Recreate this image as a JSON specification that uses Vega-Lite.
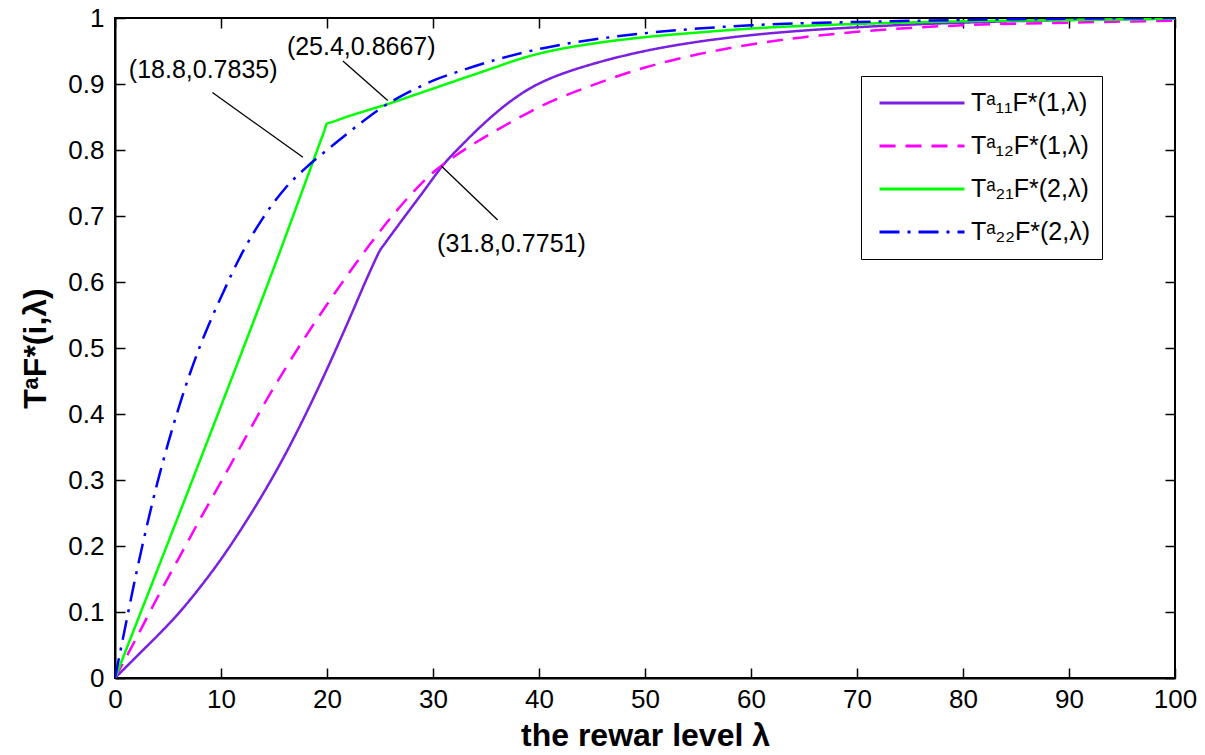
{
  "$schema": "https://vega.github.io/schema/vega-lite/v6.json",
  "width": 1060,
  "height": 660,
  "autosize": {"type": "none"},
  "padding": {"left": 115, "top": 18, "right": 30, "bottom": 77},
  "background": "white",
  "config": {
    "font": "Liberation Sans",
    "view": {"stroke": "black", "strokeWidth": 2},
    "axis": {
      "grid": false,
      "domainColor": "black",
      "domainWidth": 2,
      "tickColor": "black",
      "tickWidth": 1.5,
      "tickSize": -10,
      "labelFont": "Liberation Sans",
      "labelFontSize": 26,
      "labelColor": "black",
      "titleFont": "Liberation Sans",
      "titleFontSize": 32,
      "titleFontWeight": "bold",
      "titleColor": "black"
    },
    "legend": {
      "orient": "none",
      "legendX": 746,
      "legendY": 58,
      "title": null,
      "strokeColor": "black",
      "fillColor": "white",
      "padding": 12,
      "symbolType": "stroke",
      "symbolSize": 7225,
      "symbolStrokeWidth": 3,
      "symbolOffset": 5,
      "clipHeight": 30,
      "rowPadding": 13,
      "labelOffset": 5,
      "labelFont": "Liberation Sans",
      "labelFontSize": 25,
      "labelColor": "black",
      "labelLimit": 0
    }
  },
  "datasets": {
    "curves": [
      {"s": "T\u1d43\u2081\u2081F*(1,\u03bb)", "x": 0, "y": 0},
      {"s": "T\u1d43\u2081\u2081F*(1,\u03bb)", "x": 1, "y": 0.016},
      {"s": "T\u1d43\u2081\u2081F*(1,\u03bb)", "x": 2, "y": 0.032},
      {"s": "T\u1d43\u2081\u2081F*(1,\u03bb)", "x": 3, "y": 0.048},
      {"s": "T\u1d43\u2081\u2081F*(1,\u03bb)", "x": 4, "y": 0.064},
      {"s": "T\u1d43\u2081\u2081F*(1,\u03bb)", "x": 6, "y": 0.098},
      {"s": "T\u1d43\u2081\u2081F*(1,\u03bb)", "x": 8, "y": 0.137},
      {"s": "T\u1d43\u2081\u2081F*(1,\u03bb)", "x": 10, "y": 0.18},
      {"s": "T\u1d43\u2081\u2081F*(1,\u03bb)", "x": 12, "y": 0.228},
      {"s": "T\u1d43\u2081\u2081F*(1,\u03bb)", "x": 14, "y": 0.28},
      {"s": "T\u1d43\u2081\u2081F*(1,\u03bb)", "x": 16, "y": 0.337},
      {"s": "T\u1d43\u2081\u2081F*(1,\u03bb)", "x": 18, "y": 0.4},
      {"s": "T\u1d43\u2081\u2081F*(1,\u03bb)", "x": 20, "y": 0.468},
      {"s": "T\u1d43\u2081\u2081F*(1,\u03bb)", "x": 22, "y": 0.54},
      {"s": "T\u1d43\u2081\u2081F*(1,\u03bb)", "x": 24, "y": 0.614},
      {"s": "T\u1d43\u2081\u2081F*(1,\u03bb)", "x": 24.6, "y": 0.635},
      {"s": "T\u1d43\u2081\u2081F*(1,\u03bb)", "x": 25, "y": 0.648},
      {"s": "T\u1d43\u2081\u2081F*(1,\u03bb)", "x": 25.4, "y": 0.657},
      {"s": "T\u1d43\u2081\u2081F*(1,\u03bb)", "x": 27, "y": 0.692},
      {"s": "T\u1d43\u2081\u2081F*(1,\u03bb)", "x": 29, "y": 0.735},
      {"s": "T\u1d43\u2081\u2081F*(1,\u03bb)", "x": 31, "y": 0.778},
      {"s": "T\u1d43\u2081\u2081F*(1,\u03bb)", "x": 33, "y": 0.812},
      {"s": "T\u1d43\u2081\u2081F*(1,\u03bb)", "x": 35, "y": 0.843},
      {"s": "T\u1d43\u2081\u2081F*(1,\u03bb)", "x": 37, "y": 0.87},
      {"s": "T\u1d43\u2081\u2081F*(1,\u03bb)", "x": 39, "y": 0.892},
      {"s": "T\u1d43\u2081\u2081F*(1,\u03bb)", "x": 41, "y": 0.908},
      {"s": "T\u1d43\u2081\u2081F*(1,\u03bb)", "x": 43, "y": 0.92},
      {"s": "T\u1d43\u2081\u2081F*(1,\u03bb)", "x": 45, "y": 0.93},
      {"s": "T\u1d43\u2081\u2081F*(1,\u03bb)", "x": 50, "y": 0.95},
      {"s": "T\u1d43\u2081\u2081F*(1,\u03bb)", "x": 55, "y": 0.964},
      {"s": "T\u1d43\u2081\u2081F*(1,\u03bb)", "x": 60, "y": 0.974},
      {"s": "T\u1d43\u2081\u2081F*(1,\u03bb)", "x": 65, "y": 0.981},
      {"s": "T\u1d43\u2081\u2081F*(1,\u03bb)", "x": 70, "y": 0.986},
      {"s": "T\u1d43\u2081\u2081F*(1,\u03bb)", "x": 75, "y": 0.99},
      {"s": "T\u1d43\u2081\u2081F*(1,\u03bb)", "x": 80, "y": 0.993},
      {"s": "T\u1d43\u2081\u2081F*(1,\u03bb)", "x": 90, "y": 0.997},
      {"s": "T\u1d43\u2081\u2081F*(1,\u03bb)", "x": 100, "y": 0.999},

      {"s": "T\u1d43\u2081\u2082F*(1,\u03bb)", "x": 0, "y": 0},
      {"s": "T\u1d43\u2081\u2082F*(1,\u03bb)", "x": 1, "y": 0.03},
      {"s": "T\u1d43\u2081\u2082F*(1,\u03bb)", "x": 2, "y": 0.06},
      {"s": "T\u1d43\u2081\u2082F*(1,\u03bb)", "x": 4, "y": 0.122},
      {"s": "T\u1d43\u2081\u2082F*(1,\u03bb)", "x": 6, "y": 0.181},
      {"s": "T\u1d43\u2081\u2082F*(1,\u03bb)", "x": 8, "y": 0.24},
      {"s": "T\u1d43\u2081\u2082F*(1,\u03bb)", "x": 10, "y": 0.297},
      {"s": "T\u1d43\u2081\u2082F*(1,\u03bb)", "x": 12, "y": 0.355},
      {"s": "T\u1d43\u2081\u2082F*(1,\u03bb)", "x": 14, "y": 0.413},
      {"s": "T\u1d43\u2081\u2082F*(1,\u03bb)", "x": 16, "y": 0.467},
      {"s": "T\u1d43\u2081\u2082F*(1,\u03bb)", "x": 18, "y": 0.518},
      {"s": "T\u1d43\u2081\u2082F*(1,\u03bb)", "x": 20, "y": 0.566},
      {"s": "T\u1d43\u2081\u2082F*(1,\u03bb)", "x": 22, "y": 0.612},
      {"s": "T\u1d43\u2081\u2082F*(1,\u03bb)", "x": 24, "y": 0.656},
      {"s": "T\u1d43\u2081\u2082F*(1,\u03bb)", "x": 26, "y": 0.697},
      {"s": "T\u1d43\u2081\u2082F*(1,\u03bb)", "x": 28, "y": 0.734},
      {"s": "T\u1d43\u2081\u2082F*(1,\u03bb)", "x": 30, "y": 0.766},
      {"s": "T\u1d43\u2081\u2082F*(1,\u03bb)", "x": 32, "y": 0.79},
      {"s": "T\u1d43\u2081\u2082F*(1,\u03bb)", "x": 34, "y": 0.811},
      {"s": "T\u1d43\u2081\u2082F*(1,\u03bb)", "x": 36, "y": 0.83},
      {"s": "T\u1d43\u2081\u2082F*(1,\u03bb)", "x": 38, "y": 0.848},
      {"s": "T\u1d43\u2081\u2082F*(1,\u03bb)", "x": 40, "y": 0.865},
      {"s": "T\u1d43\u2081\u2082F*(1,\u03bb)", "x": 45, "y": 0.898},
      {"s": "T\u1d43\u2081\u2082F*(1,\u03bb)", "x": 50, "y": 0.925},
      {"s": "T\u1d43\u2081\u2082F*(1,\u03bb)", "x": 55, "y": 0.945},
      {"s": "T\u1d43\u2081\u2082F*(1,\u03bb)", "x": 60, "y": 0.96},
      {"s": "T\u1d43\u2081\u2082F*(1,\u03bb)", "x": 65, "y": 0.971},
      {"s": "T\u1d43\u2081\u2082F*(1,\u03bb)", "x": 70, "y": 0.979},
      {"s": "T\u1d43\u2081\u2082F*(1,\u03bb)", "x": 75, "y": 0.985},
      {"s": "T\u1d43\u2081\u2082F*(1,\u03bb)", "x": 80, "y": 0.989},
      {"s": "T\u1d43\u2081\u2082F*(1,\u03bb)", "x": 90, "y": 0.993},
      {"s": "T\u1d43\u2081\u2082F*(1,\u03bb)", "x": 100, "y": 0.996},

      {"s": "T\u1d43\u2082\u2081F*(2,\u03bb)", "x": 0, "y": 0},
      {"s": "T\u1d43\u2082\u2081F*(2,\u03bb)", "x": 5, "y": 0.205},
      {"s": "T\u1d43\u2082\u2081F*(2,\u03bb)", "x": 10, "y": 0.412},
      {"s": "T\u1d43\u2082\u2081F*(2,\u03bb)", "x": 15, "y": 0.622},
      {"s": "T\u1d43\u2082\u2081F*(2,\u03bb)", "x": 19.7, "y": 0.827},
      {"s": "T\u1d43\u2082\u2081F*(2,\u03bb)", "x": 20, "y": 0.84},
      {"s": "T\u1d43\u2082\u2081F*(2,\u03bb)", "x": 20.3, "y": 0.8415},
      {"s": "T\u1d43\u2082\u2081F*(2,\u03bb)", "x": 22, "y": 0.851},
      {"s": "T\u1d43\u2082\u2081F*(2,\u03bb)", "x": 24, "y": 0.861},
      {"s": "T\u1d43\u2082\u2081F*(2,\u03bb)", "x": 26, "y": 0.871},
      {"s": "T\u1d43\u2082\u2081F*(2,\u03bb)", "x": 28, "y": 0.882},
      {"s": "T\u1d43\u2082\u2081F*(2,\u03bb)", "x": 30, "y": 0.893},
      {"s": "T\u1d43\u2082\u2081F*(2,\u03bb)", "x": 32, "y": 0.904},
      {"s": "T\u1d43\u2082\u2081F*(2,\u03bb)", "x": 34, "y": 0.915},
      {"s": "T\u1d43\u2082\u2081F*(2,\u03bb)", "x": 36, "y": 0.926},
      {"s": "T\u1d43\u2082\u2081F*(2,\u03bb)", "x": 38, "y": 0.937},
      {"s": "T\u1d43\u2082\u2081F*(2,\u03bb)", "x": 40, "y": 0.946},
      {"s": "T\u1d43\u2082\u2081F*(2,\u03bb)", "x": 42, "y": 0.953},
      {"s": "T\u1d43\u2082\u2081F*(2,\u03bb)", "x": 45, "y": 0.961},
      {"s": "T\u1d43\u2082\u2081F*(2,\u03bb)", "x": 50, "y": 0.971},
      {"s": "T\u1d43\u2082\u2081F*(2,\u03bb)", "x": 55, "y": 0.978},
      {"s": "T\u1d43\u2082\u2081F*(2,\u03bb)", "x": 60, "y": 0.984},
      {"s": "T\u1d43\u2082\u2081F*(2,\u03bb)", "x": 70, "y": 0.991},
      {"s": "T\u1d43\u2082\u2081F*(2,\u03bb)", "x": 80, "y": 0.995},
      {"s": "T\u1d43\u2082\u2081F*(2,\u03bb)", "x": 90, "y": 0.997},
      {"s": "T\u1d43\u2082\u2081F*(2,\u03bb)", "x": 100, "y": 0.999},

      {"s": "T\u1d43\u2082\u2082F*(2,\u03bb)", "x": 0, "y": 0},
      {"s": "T\u1d43\u2082\u2082F*(2,\u03bb)", "x": 1, "y": 0.08},
      {"s": "T\u1d43\u2082\u2082F*(2,\u03bb)", "x": 2, "y": 0.158},
      {"s": "T\u1d43\u2082\u2082F*(2,\u03bb)", "x": 3, "y": 0.23},
      {"s": "T\u1d43\u2082\u2082F*(2,\u03bb)", "x": 4, "y": 0.296},
      {"s": "T\u1d43\u2082\u2082F*(2,\u03bb)", "x": 5, "y": 0.355},
      {"s": "T\u1d43\u2082\u2082F*(2,\u03bb)", "x": 6, "y": 0.409},
      {"s": "T\u1d43\u2082\u2082F*(2,\u03bb)", "x": 7, "y": 0.458},
      {"s": "T\u1d43\u2082\u2082F*(2,\u03bb)", "x": 8, "y": 0.502},
      {"s": "T\u1d43\u2082\u2082F*(2,\u03bb)", "x": 9, "y": 0.541},
      {"s": "T\u1d43\u2082\u2082F*(2,\u03bb)", "x": 10, "y": 0.577},
      {"s": "T\u1d43\u2082\u2082F*(2,\u03bb)", "x": 12, "y": 0.644},
      {"s": "T\u1d43\u2082\u2082F*(2,\u03bb)", "x": 14, "y": 0.698},
      {"s": "T\u1d43\u2082\u2082F*(2,\u03bb)", "x": 16, "y": 0.741},
      {"s": "T\u1d43\u2082\u2082F*(2,\u03bb)", "x": 18, "y": 0.773},
      {"s": "T\u1d43\u2082\u2082F*(2,\u03bb)", "x": 20, "y": 0.8},
      {"s": "T\u1d43\u2082\u2082F*(2,\u03bb)", "x": 22, "y": 0.826},
      {"s": "T\u1d43\u2082\u2082F*(2,\u03bb)", "x": 25.4, "y": 0.8667},
      {"s": "T\u1d43\u2082\u2082F*(2,\u03bb)", "x": 28, "y": 0.89},
      {"s": "T\u1d43\u2082\u2082F*(2,\u03bb)", "x": 30, "y": 0.905},
      {"s": "T\u1d43\u2082\u2082F*(2,\u03bb)", "x": 33, "y": 0.922},
      {"s": "T\u1d43\u2082\u2082F*(2,\u03bb)", "x": 36, "y": 0.937},
      {"s": "T\u1d43\u2082\u2082F*(2,\u03bb)", "x": 40, "y": 0.953},
      {"s": "T\u1d43\u2082\u2082F*(2,\u03bb)", "x": 45, "y": 0.967},
      {"s": "T\u1d43\u2082\u2082F*(2,\u03bb)", "x": 50, "y": 0.977},
      {"s": "T\u1d43\u2082\u2082F*(2,\u03bb)", "x": 55, "y": 0.984},
      {"s": "T\u1d43\u2082\u2082F*(2,\u03bb)", "x": 60, "y": 0.989},
      {"s": "T\u1d43\u2082\u2082F*(2,\u03bb)", "x": 70, "y": 0.994},
      {"s": "T\u1d43\u2082\u2082F*(2,\u03bb)", "x": 80, "y": 0.997},
      {"s": "T\u1d43\u2082\u2082F*(2,\u03bb)", "x": 90, "y": 0.999},
      {"s": "T\u1d43\u2082\u2082F*(2,\u03bb)", "x": 100, "y": 1.0}
    ],
    "callouts": [
      {"x": 9.19, "y": 0.887, "x2": 17.73, "y2": 0.789},
      {"x": 21.5, "y": 0.935, "x2": 25.73, "y2": 0.875},
      {"x": 30.76, "y": 0.776, "x2": 36.1, "y2": 0.694}
    ],
    "notes": [
      {"x": 8.32, "y": 0.921, "t": "(18.8,0.7835)"},
      {"x": 23.23, "y": 0.9565, "t": "(25.4,0.8667)"},
      {"x": 37.4, "y": 0.6576, "t": "(31.8,0.7751)"}
    ]
  },
  "layer": [
    {
      "data": {"name": "curves"},
      "mark": {"type": "line", "strokeWidth": 2.5, "clip": true, "interpolate": "monotone"},
      "encoding": {
        "x": {
          "field": "x", "type": "quantitative",
          "scale": {"domain": [0, 100], "nice": false, "zero": false},
          "axis": {
            "orient": "bottom",
            "values": [0, 10, 20, 30, 40, 50, 60, 70, 80, 90, 100],
            "labelPadding": 18,
            "labelBaseline": "top",
            "labelFlush": false,
            "title": "the rewar level \u03bb",
            "titleX": 530,
            "titleY": 67,
            "titleBaseline": "alphabetic",
            "titleAnchor": null,
            "titleAlign": "center"
          }
        },
        "y": {
          "field": "y", "type": "quantitative",
          "scale": {"domain": [0, 1], "nice": false},
          "axis": {
            "orient": "left",
            "values": [0, 0.1, 0.2, 0.3, 0.4, 0.5, 0.6, 0.7, 0.8, 0.9, 1],
            "format": "~g",
            "labelPadding": 21,
            "labelFlush": false,
            "title": "T\u1d43F*(i,\u03bb)",
            "titleAngle": -90,
            "titleX": -80,
            "titleY": 330,
            "titleAlign": "center",
            "titleBaseline": "middle",
            "titleAnchor": null
          }
        },
        "color": {
          "field": "s", "type": "nominal",
          "scale": {
            "domain": ["T\u1d43\u2081\u2081F*(1,\u03bb)", "T\u1d43\u2081\u2082F*(1,\u03bb)", "T\u1d43\u2082\u2081F*(2,\u03bb)", "T\u1d43\u2082\u2082F*(2,\u03bb)"],
            "range": ["#7B1FE0", "#FF00FF", "#00FF00", "#0000FF"]
          },
          "legend": {}
        },
        "strokeDash": {
          "field": "s", "type": "nominal",
          "scale": {
            "domain": ["T\u1d43\u2081\u2081F*(1,\u03bb)", "T\u1d43\u2081\u2082F*(1,\u03bb)", "T\u1d43\u2082\u2081F*(2,\u03bb)", "T\u1d43\u2082\u2082F*(2,\u03bb)"],
            "range": [[1, 0], [16, 10], [1, 0], [20, 8, 3, 8]]
          },
          "legend": {}
        }
      }
    },
    {
      "data": {"name": "callouts"},
      "mark": {"type": "rule", "color": "black", "strokeWidth": 1.3},
      "encoding": {
        "x": {
          "field": "x", "type": "quantitative",
          "axis": {"orient": "top", "values": [0, 10, 20, 30, 40, 50, 60, 70, 80, 90, 100], "labels": false, "domain": false, "title": null}
        },
        "x2": {"field": "x2"},
        "y": {
          "field": "y", "type": "quantitative",
          "axis": {"orient": "right", "values": [0, 0.1, 0.2, 0.3, 0.4, 0.5, 0.6, 0.7, 0.8, 0.9, 1], "labels": false, "domain": false, "title": null}
        },
        "y2": {"field": "y2"}
      }
    },
    {
      "data": {"name": "notes"},
      "mark": {"type": "text", "font": "Liberation Sans", "fontSize": 25, "color": "black", "align": "center", "baseline": "middle"},
      "encoding": {
        "x": {"field": "x", "type": "quantitative", "axis": null},
        "y": {"field": "y", "type": "quantitative", "axis": null},
        "text": {"field": "t"}
      }
    }
  ],
  "resolve": {"axis": {"x": "independent", "y": "independent"}}
}
